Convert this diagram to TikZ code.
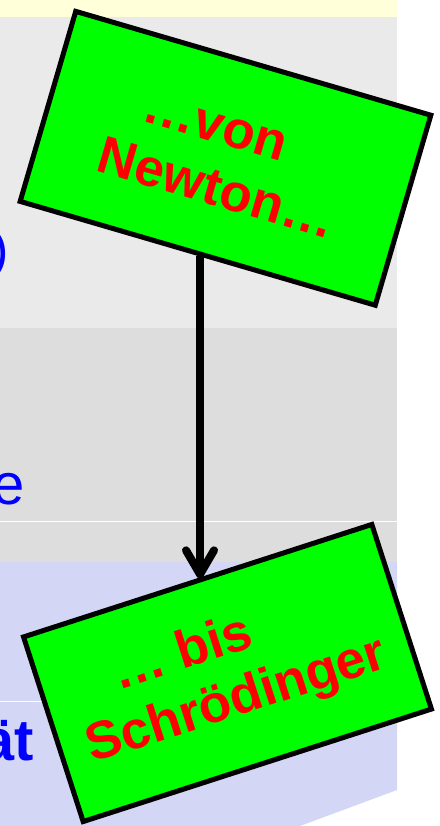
\documentclass[tikz,border=0pt]{standalone}
\usepackage{fontspec}
\setmainfont{Liberation Sans}
\usepackage{xcolor}
\usepackage{tikz}
\usetikzlibrary{arrows.meta,positioning,calc}
\definecolor{bandyellow}{HTML}{FFFFD9}
\definecolor{bandgray}{HTML}{EAEAEA}
\definecolor{banddark}{HTML}{DDDDDD}
\definecolor{bandlilac}{HTML}{D4D6F5}
\definecolor{cardgreen}{HTML}{00FF00}
\definecolor{cardred}{HTML}{FF0000}
\definecolor{slideblue}{HTML}{0000FF}

\begin{document}
\begin{tikzpicture}[
    x=1pt,y=1pt,
    >=Latex,
    line join=miter,
    rule/.style={draw=white, line width=1pt},
    card/.style={draw=black, fill=cardgreen, line width=5pt, inner sep=0pt, align=center, text=cardred, font=\bfseries\fontsize{53}{61}\selectfont},
    slidetext/.style={anchor=base west, inner sep=0pt, text=slideblue, font=\fontsize{52}{60}\selectfont},
    flow/.style={-{Straight Barb[length=24pt,width=28pt,round]}, line width=8pt, draw=black}
]
\useasboundingbox (0,0) rectangle (439,-826);

% Background bands
\fill[bandyellow] (0,0) rectangle (397,-17);
\fill[bandgray] (0,-17) rectangle (397,-328);
\fill[banddark] (0,-328) rectangle (397,-562);
\fill[bandlilac] (0,-562) -- (397,-562) -- (397,-790) -- (300,-826) -- (0,-826) -- cycle;
\draw[rule] (0,-521) -- (397,-521);
\draw[rule] (0,-701) -- (397,-701);

% Cut-off slide text
\node[slidetext] (paren) at (-9,-267) {)};
\node[slidetext, font=\fontsize{58}{66}\selectfont] (lastE) at (-8,-504) {e};
\node[slidetext, font=\bfseries\fontsize{58}{66}\selectfont] (umlaut) at (-18,-760) {ät};

% Cards
\node[card, minimum width=370pt, minimum height=198pt, rotate=-16.3] (newton) at (225.5,-158.3) {\vphantom{N}…von\hspace*{38pt}\\Newton…};
\node[card, minimum width=366pt, minimum height=194pt, rotate=17.9] (schroedinger) at (227.5,-673) {… bis\hspace*{74pt}\\Schrödinger};

% Arrow
\coordinate (arrowtop) at ([xshift=3pt]newton.south);
\draw[flow] (arrowtop) -- (arrowtop |- schroedinger.north);

\end{tikzpicture}
\end{document}
